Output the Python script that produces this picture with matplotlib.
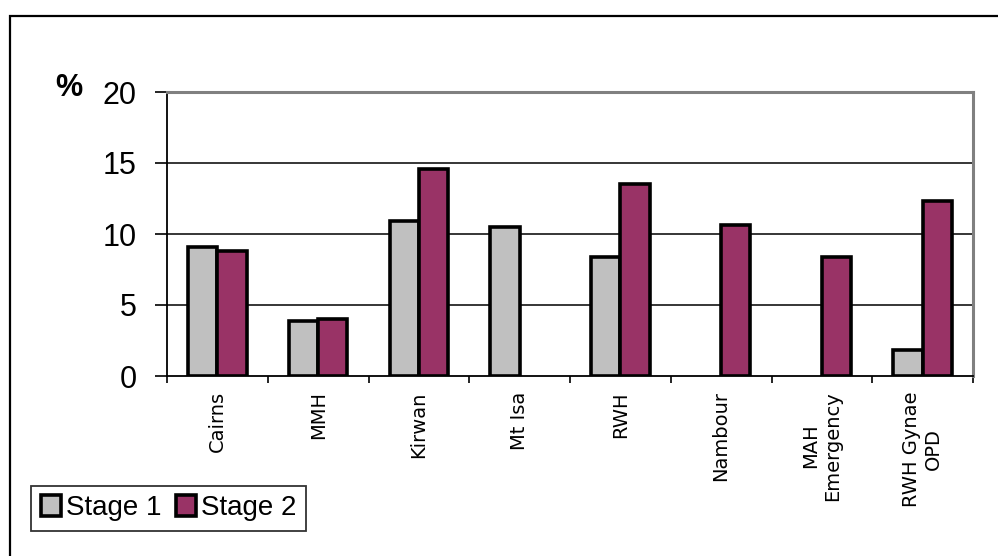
import numpy as np
import matplotlib
matplotlib.use("Agg")
import matplotlib.pyplot as plt
from matplotlib.patches import Rectangle

# share of patients per site, by survey stage (nan = site not surveyed)
sites = ["Cairns", "MMH", "Kirwan", "Mt Isa", "RWH", "Nambour",
         "MAH\nEmergency", "RWH Gynae\nOPD"]
stage1 = [9.1, 3.9, 10.9, 10.5, 8.4, np.nan, np.nan, 1.8]
stage2 = [8.8, 4.0, 14.6, np.nan, 13.5, 10.65, 8.4, 12.3]
yticks = [0, 5, 10, 15, 20]

GREY = "#C0C0C0"
MAROON = "#993366"

fig = plt.figure(figsize=(9.98, 5.56), dpi=100)
fig.patch.set_facecolor("white")

# outer frame, open to the right and bottom
fig.patches.append(Rectangle((10 / 998, -0.1), 1.2, 1.1 - 16 / 556,
                             transform=fig.transFigure, fill=False,
                             edgecolor="black", linewidth=1.6, zorder=0))

ax = fig.add_axes([167 / 998, 1 - 376 / 556, (973 - 167) / 998, (376 - 92) / 556])

x = np.arange(len(sites))
w = 0.29


def draw(vals, offset, colour, label):
    vals = np.asarray(vals, dtype=float)
    ok = ~np.isnan(vals)
    return ax.bar(x[ok] + offset, vals[ok], width=w, color=colour,
                  edgecolor="black", linewidth=2.6, label=label, zorder=3)


b1 = draw(stage1, -w / 2, GREY, "Stage 1")
b2 = draw(stage2, w / 2, MAROON, "Stage 2")

ax.set_xlim(-0.5, len(sites) - 0.5)
ax.set_ylim(0, 20)
ax.set_yticks(yticks)
ax.set_yticklabels([str(t) for t in yticks], fontsize=22, family="Liberation Sans")
ax.tick_params(axis="y", direction="out", length=9, width=1.2, pad=13)

# category labels between boundary ticks
ax.set_xticks(np.arange(len(sites) + 1) - 0.5)
ax.set_xticklabels([])
ax.tick_params(axis="x", direction="out", length=5, width=1.2)
for xi, name in zip(x, sites):
    ax.annotate(name, xy=(xi, 0), xycoords=("data", "axes fraction"),
                xytext=(0, -11), textcoords="offset points",
                rotation=90, ha="center", va="top", multialignment="center",
                fontsize=14, family="DejaVu Sans")

for yv in yticks[1:-1]:
    ax.axhline(yv, color="black", linewidth=1.1, zorder=1)

for side in ("left", "bottom"):
    ax.spines[side].set_color("black")
    ax.spines[side].set_linewidth(1.3)
for side in ("top", "right"):
    ax.spines[side].set_color("#808080")
    ax.spines[side].set_linewidth(2.2)

fig.text(55 / 998, 1 - 96 / 556, "%", fontsize=22, fontweight="bold",
         family="Liberation Sans", ha="left", va="baseline")

leg = fig.legend(handles=[b1, b2], loc="lower left",
                 bbox_to_anchor=(31 / 998, 1 - 531 / 556), borderaxespad=0,
                 ncol=2, frameon=True, fancybox=False, shadow=False,
                 prop={"family": ["Liberation Sans Narrow", "Liberation Sans"], "size": 20},
                 handlelength=0.72, handleheight=0.75, handletextpad=0.2,
                 columnspacing=0.5, borderpad=0.35)
leg.get_frame().set_edgecolor("black")
leg.get_frame().set_linewidth(1.3)

fig.savefig("out.png", dpi=100)
